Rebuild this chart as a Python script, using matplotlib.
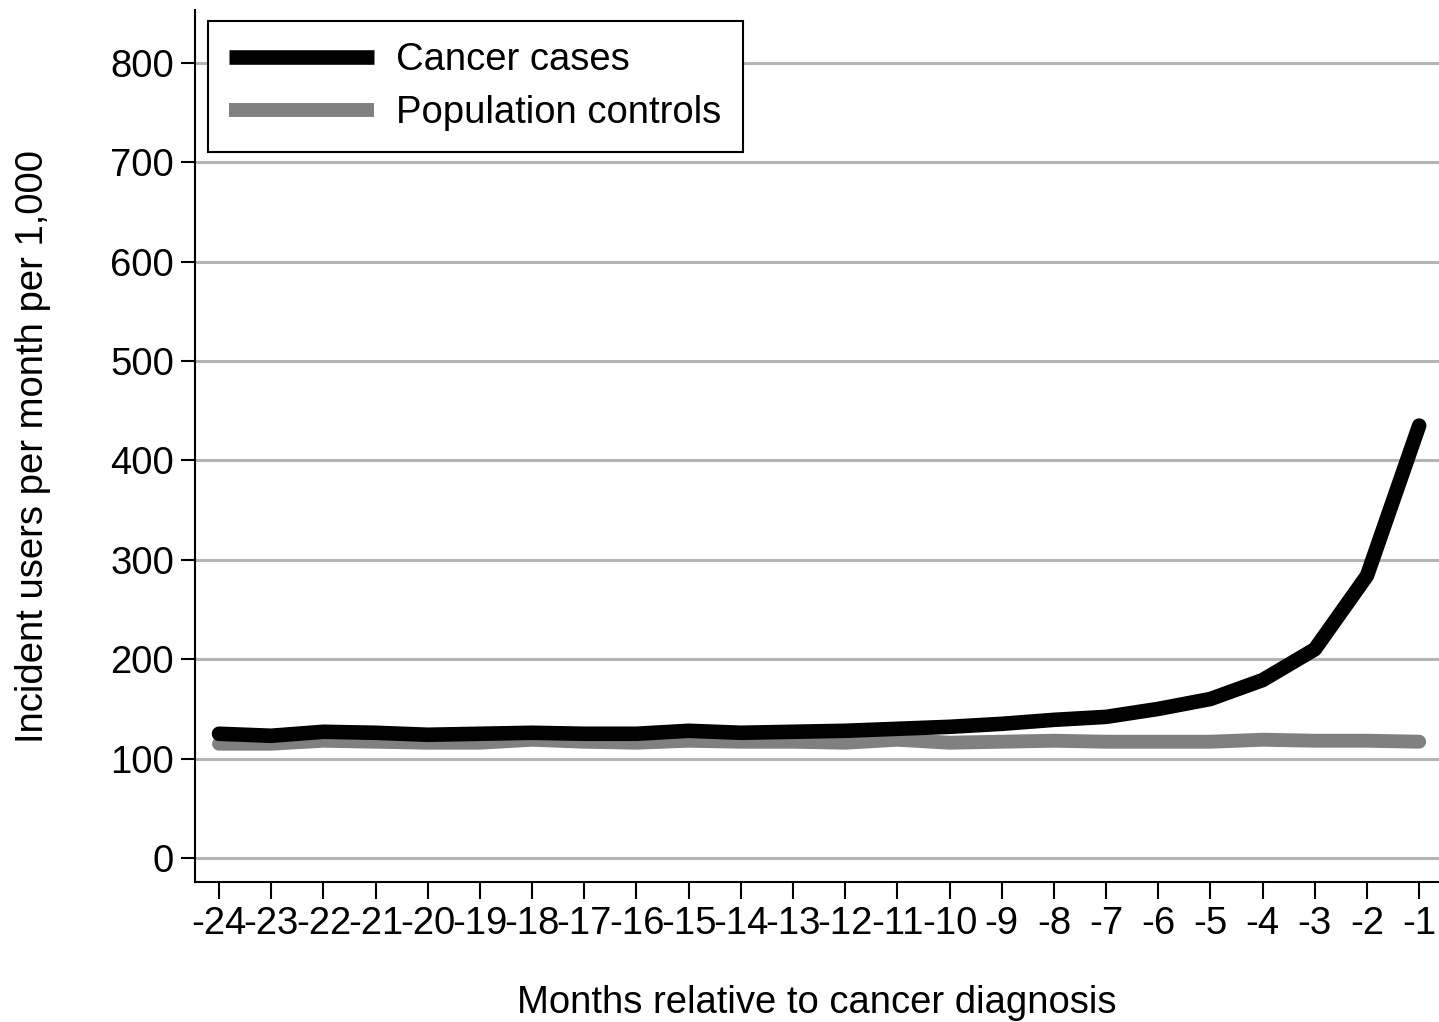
import matplotlib.pyplot as plt
import numpy as np

plt.rcParams['font.family'] = ['Liberation Sans', 'DejaVu Sans']

months = list(range(-24, 0))
cancer_cases = [125, 123, 127, 126, 124, 125, 126, 125, 125, 128, 126, 127,
                128, 130, 132, 135, 139, 142, 150, 160, 179, 210, 284, 435]
population_controls = [115, 115, 118, 117, 116, 116, 119, 117, 116, 118, 117, 117,
                       116, 119, 116, 117, 118, 117, 117, 117, 119, 118, 118, 117]
y_ticks = [0, 100, 200, 300, 400, 500, 600, 700, 800]

fig = plt.figure(figsize=(14.39, 10.22), dpi=100)
ax = fig.add_axes([195 / 1439, 140 / 1022, 1 - 195 / 1439, 872 / 1022])

ax.plot(months, cancer_cases, color='black', lw=10.5, solid_capstyle='round',
        solid_joinstyle='round', label='Cancer cases', zorder=3)
ax.plot(months, population_controls, color='#808080', lw=10, solid_capstyle='round',
        solid_joinstyle='round', label='Population controls', zorder=2)

ax.set_xlim(-24.46, -0.62)
ax.set_ylim(-24.1, 853)
ax.set_yticks(y_ticks)
ax.set_xticks(months)
ax.set_xticklabels([str(m) for m in months])
ax.tick_params(axis='both', labelsize=27.5, width=1.5, length=10, direction='out')
ax.tick_params(axis='y', pad=5)
ax.tick_params(axis='x', length=12, pad=5)
ax.yaxis.grid(True, color='#b4b4b4', lw=2.2)
ax.set_axisbelow(True)
for s in ['top', 'right']:
    ax.spines[s].set_visible(False)
for s in ['left', 'bottom']:
    ax.spines[s].set_linewidth(1.5)

ax.set_xlabel('Months relative to cancer diagnosis', fontsize=27.5, labelpad=31)
ax.set_ylabel('Incident users per month per 1,000', fontsize=27.5, labelpad=43)

leg = ax.legend(loc='upper left', bbox_to_anchor=(13 / 1244, 1 - 11 / 872), fontsize=27.5,
                frameon=True, fancybox=False, edgecolor='black', framealpha=1,
                handlelength=3.8, handletextpad=0.58, borderpad=0.55, labelspacing=0.45,
                borderaxespad=0)
leg.get_frame().set_linewidth(1.5)
for line in leg.get_lines():
    line.set_solid_capstyle('butt')

fig.savefig('out.png', dpi=100)
